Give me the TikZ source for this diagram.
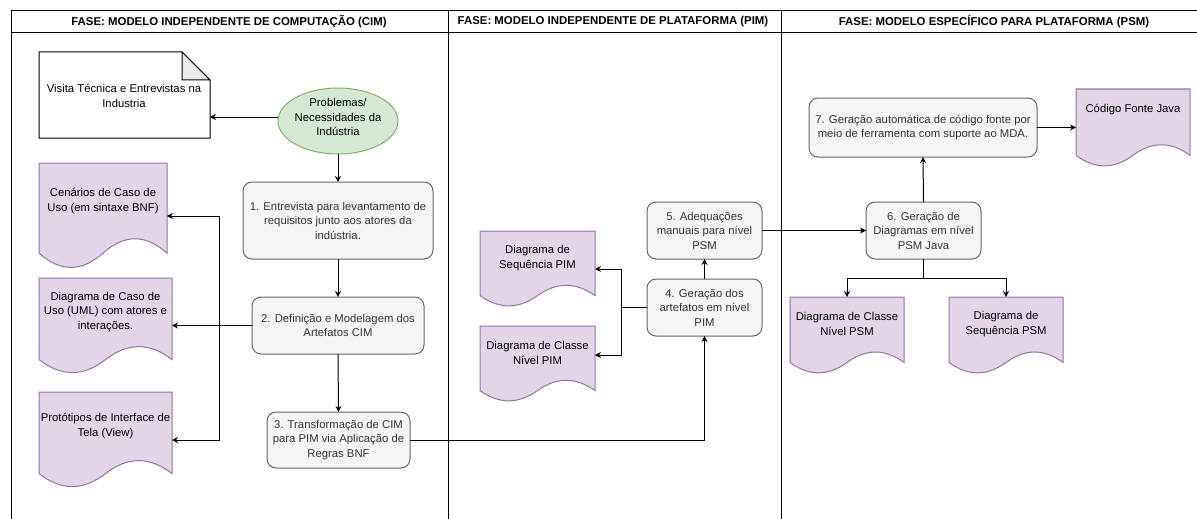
\documentclass[tikz,border=0pt]{standalone}
\usepackage{fontspec}
\setmainfont{Liberation Sans}
\usetikzlibrary{arrows.meta,calc,shapes.geometric}

\definecolor{docfill}{HTML}{E1D5E7}
\definecolor{docline}{HTML}{9673A6}
\definecolor{procfill}{HTML}{F5F5F5}
\definecolor{procline}{HTML}{666666}
\definecolor{proctext}{HTML}{333333}
\definecolor{startfill}{HTML}{D5E8D4}
\definecolor{startline}{HTML}{82B366}
\definecolor{foldfill}{HTML}{EBEBEB}

\tikzset{
  every node/.style={font=\fontsize{11.3}{14.5}\selectfont, inner sep=0pt, outer sep=0pt},
  proc/.style={rectangle, draw=procline, fill=procfill, text=proctext,
    rounded corners=9pt, align=center, line width=1pt},
  startnode/.style={ellipse, draw=startline, fill=startfill, line width=1pt},
  shapebox/.style={rectangle},
  doctext/.style={align=center, text=black},
  phase/.style={font=\fontsize{11.4}{13}\selectfont\bfseries},
  frame/.style={line width=1pt, draw=black},
  conn/.style={line width=1pt, draw=black, -{Stealth[length=6pt,width=6pt,inset=2pt]}},
}

% Document shape (wavy bottom) drawn around a named rectangle node
\newcommand\docoutline[1]{%
  \path[fill=docfill, draw=docline, line width=1pt]
    let \p1=(#1.north west), \p2=(#1.south east),
        \n1={\x2-\x1}, \n2={0.3*(\y1-\y2)} in
    (\x1,\y1) -- (\x2,\y1) -- (\x2,\y2+0.5*\n2)
    .. controls (\x2-\n1/6,\y2+1.1*\n2) and (\x1+2*\n1/3,\y2+1.1*\n2) .. (\x1+0.5*\n1,\y2+0.5*\n2)
    .. controls (\x1+\n1/3,\y2-0.1*\n2) and (\x1+\n1/6,\y2-0.1*\n2) .. (\x1,\y2+0.5*\n2)
    -- cycle;}

% Note shape with a folded top-right corner
\newcommand\noteoutline[2]{%
  \path[draw=black, fill=white, line width=1pt]
    let \p1=(#1.north west), \p2=(#1.south east) in
    (\x1,\y1) -- (\x2-#2,\y1) -- (\x2,\y1-#2) -- (\x2,\y2) -- (\x1,\y2) -- cycle;
  \path[draw=black, fill=foldfill, line width=1pt]
    let \p1=(#1.north east) in
    (\x1-#2,\y1) -- (\x1-#2,\y1-#2) -- (\x1,\y1-#2) -- cycle;}

\begin{document}
\begin{tikzpicture}[x=1pt,y=-1pt]
\useasboundingbox (0,0) rectangle (1197,519);

% swimlane frame
\draw[frame] (11,519) -- (11,11) -- (1197,11);
\draw[frame] (11,33) -- (1197,33);
\draw[frame] (448,11) -- (448,519);
\draw[frame] (781,11) -- (781,519);

\node[phase] (ph1) at (229,22) {FASE: MODELO INDEPENDENTE DE COMPUTAÇÃO (CIM)};
\node[phase] (ph2) at (613,22) {FASE: MODELO INDEPENDENTE DE PLATAFORMA (PIM)};
\node[phase] (ph3) at (994,22) {FASE: MODELO ESPECÍFICO PARA PLATAFORMA (PSM)};

% --- CIM lane ---
\node[shapebox, minimum width=171pt, minimum height=86pt] (note) at (124.5,95) {};
\noteoutline{note}{28pt}
\node[doctext] (note-t) at (124,96) {Visita Técnica e Entrevistas na\\Industria};

\node[startnode, minimum width=120pt, minimum height=66pt] (prob) at (338,121) {};
\node[doctext] (prob-t) at (338,117) {Problemas/\\Necessidades da\\Indústria};

\node[proc, minimum width=190pt, minimum height=77pt] (s1) at (338,220.5)
  {1. Entrevista para levantamento de\\requisitos junto aos atores da\\indústria.};
\node[proc, minimum width=172pt, minimum height=57pt] (s2) at (338,325.5)
  {2. Definição e Modelagem dos\\Artefatos CIM};
\node[proc, minimum width=143pt, minimum height=56pt] (s3) at (338.5,440)
  {3. Transformação de CIM\\para PIM via Aplicação de\\Regras BNF};

\node[shapebox, minimum width=128pt, minimum height=106pt] (dcen) at (103,216) {};
\docoutline{dcen}
\node[doctext] (dcen-t) at (103,201) {Cenários de Caso de\\Uso (em sintaxe BNF)};

\node[shapebox, minimum width=133pt, minimum height=96pt] (duml) at (105.5,326) {};
\docoutline{duml}
\node[doctext] (duml-t) at (105.5,312) {Diagrama de Caso de\\Uso (UML) com atores e\\interações.};

\node[shapebox, minimum width=133pt, minimum height=96pt] (dproto) at (105.5,440) {};
\docoutline{dproto}
\node[doctext] (dproto-t) at (105.5,426) {Protótipos de Interface de\\Tela (View)};

% --- PIM lane ---
\node[proc, minimum width=115pt, minimum height=57pt] (s4) at (704.5,307.5)
  {4. Geração dos\\artefatos em nível\\PIM};
\node[proc, minimum width=115pt, minimum height=57pt] (s5) at (704.5,230.5)
  {5. Adequações\\manuais para nível\\PSM};

\node[shapebox, minimum width=115pt, minimum height=76pt] (dseqpim) at (537.5,269) {};
\docoutline{dseqpim}
\node[doctext] (dseqpim-t) at (537.5,258) {Diagrama de\\Sequência PIM};

\node[shapebox, minimum width=115pt, minimum height=76pt] (dclspim) at (537.5,364) {};
\docoutline{dclspim}
\node[doctext] (dclspim-t) at (537.5,353) {Diagrama de Classe\\Nível PIM};

% --- PSM lane ---
\node[proc, minimum width=115pt, minimum height=57pt] (s6) at (923.5,230.5)
  {6. Geração de\\Diagramas em nível\\PSM Java};
\node[proc, minimum width=228pt, minimum height=59pt] (s7) at (923,127.5)
  {7. Geração automática de código fonte por\\meio de ferramenta com suporte ao MDA.};

\node[shapebox, minimum width=114pt, minimum height=78pt] (djava) at (1133,128) {};
\docoutline{djava}
\node[doctext] (djava-t) at (1133,110) {Código Fonte Java};

\node[shapebox, minimum width=114pt, minimum height=77pt] (dclspsm) at (847,335.5) {};
\docoutline{dclspsm}
\node[doctext] (dclspsm-t) at (847,324) {Diagrama de Classe\\Nível PSM};

\node[shapebox, minimum width=114pt, minimum height=77pt] (dseqpsm) at (1006,335.5) {};
\docoutline{dseqpsm}
\node[doctext] (dseqpsm-t) at (1006,324) {Diagrama de\\Sequência PSM};

% --- connectors ---
\coordinate (busL) at (219,0);
\coordinate (busP) at (621,0);
\coordinate (fork6) at (0,278);

\draw[conn] ([yshift=4pt]prob.west) -- ([yshift=4pt]prob.west -| note.east);
\draw[conn] (prob.south) -- (s1.north);
\draw[conn] (s1.south) -- (s2.north);
\draw[conn] (s2.south) -- (s3.north);
\draw[conn] (s2.west) -- (s2.west -| duml.east);
\draw[conn] (s2.west) -- (s2.west -| busL) |- (dcen.east);
\draw[conn] (s2.west) -- (s2.west -| busL) |- (dproto.east);

\draw[conn] (s3.east) -| (s4.south);
\draw[conn] (s4.north) -- (s5.south);
\draw[conn] (s4.west) -- (s4.west -| busP) |- (dseqpim.east);
\draw[conn] (s4.west) -- (s4.west -| busP) |- ([yshift=9pt]dclspim.east);

\draw[conn] (s5.east) -- (s6.west);
\draw[conn] (s6.north) -- (s7.south);
\draw[conn] (s7.east) -- (s7.east -| djava.west);
\draw[conn] (s6.south) -- (s6.south |- fork6) -| (dclspsm.north);
\draw[conn] (s6.south) -- (s6.south |- fork6) -| (dseqpsm.north);
\end{tikzpicture}
\end{document}
